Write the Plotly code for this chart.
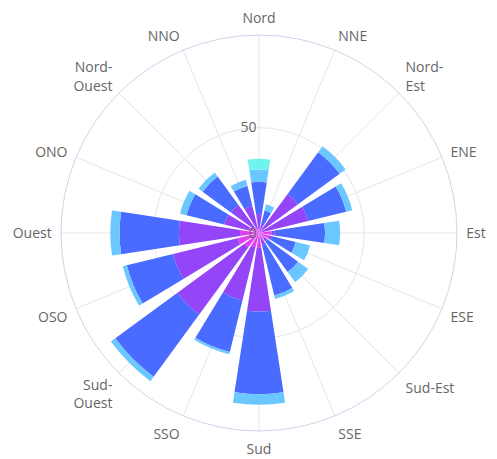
import plotly.graph_objects as go

directions = ["Nord", "NNE", "Nord-<br>Est", "ENE", "Est", "ESE", "Sud-Est", "SSE",
              "Sud", "SSO", "Sud-<br>Ouest", "OSO", "Ouest", "ONO", "Nord-<br>Ouest", "NNO"]
angles = [i * 22.5 for i in range(len(directions))]

series_names = ["< 0.5 m/s", "0.5-2 m/s", "2-4 m/s", "4-6 m/s", "6-8 m/s"]
s1 = [2, 1, 2, 2, 6, 5, 3, 3, 7, 7, 8.6, 10.5, 9, 5, 3, 2]
s2 = [7, 3, 21, 22, 1.5, 1.5, 2, 3, 30.3, 26, 39.4, 31.5, 29, 12, 13.5, 11.2]
s3 = [15.3, 7, 24.5, 18.6, 23.9, 11.5, 18, 24.5, 39.2, 25.2, 36.6, 22.6, 28.2, 18.4, 16.7, 9.8]
s4 = [5.8, 3, 3.5, 3, 7.1, 7, 6, 1.7, 5, 1.1, 2.6, 2, 4.4, 3.2, 2.4, 3]
s5 = [5.1, 0, 0, 0, 0, 0, 0, 0, 0, 0, 0, 0, 0, 0, 0, 0]
colors = ["#E23FF2", "#9445F7", "#4A6BFF", "#6BC7FF", "#70F3EC"]

fig = go.Figure()
for name, vals, col in zip(series_names, [s1, s2, s3, s4, s5], colors):
    fig.add_trace(go.Barpolar(
        r=vals, theta=angles, name=name,
        marker=dict(color=col, line=dict(width=0)),
        width=17.5,
    ))

W, H = 497, 459
cx, cy, R = 251, 225, 198
fig.update_layout(
    width=W, height=H,
    margin=dict(l=0, r=0, t=0, b=0),
    paper_bgcolor="white",
    showlegend=False,
    font=dict(family="Open Sans", size=14, color="#666666"),
    polar=dict(
        domain=dict(x=[(cx - R) / W, (cx + R) / W], y=[1 - (cy + R) / H, 1 - (cy - R) / H]),
        bgcolor="white",
        barmode="stack",
        angularaxis=dict(
            direction="clockwise", rotation=90,
            tickmode="array", tickvals=angles, ticktext=directions,
            showline=True, linecolor="#CCD6EB", linewidth=1,
            gridcolor="#E6E6E6", ticks="outside", ticklen=6,
            tickcolor="rgba(0,0,0,0)",
            tickfont=dict(size=14, color="#666666"),
        ),
        radialaxis=dict(
            range=[0, 94], angle=90, tickangle=90, side="counterclockwise",
            tickvals=[0, 50], showline=False, ticks="",
            gridcolor="#E6E6E6",
            tickfont=dict(size=14, color="#666666"),
        ),
    ),
)

fig.write_html("out.html")
